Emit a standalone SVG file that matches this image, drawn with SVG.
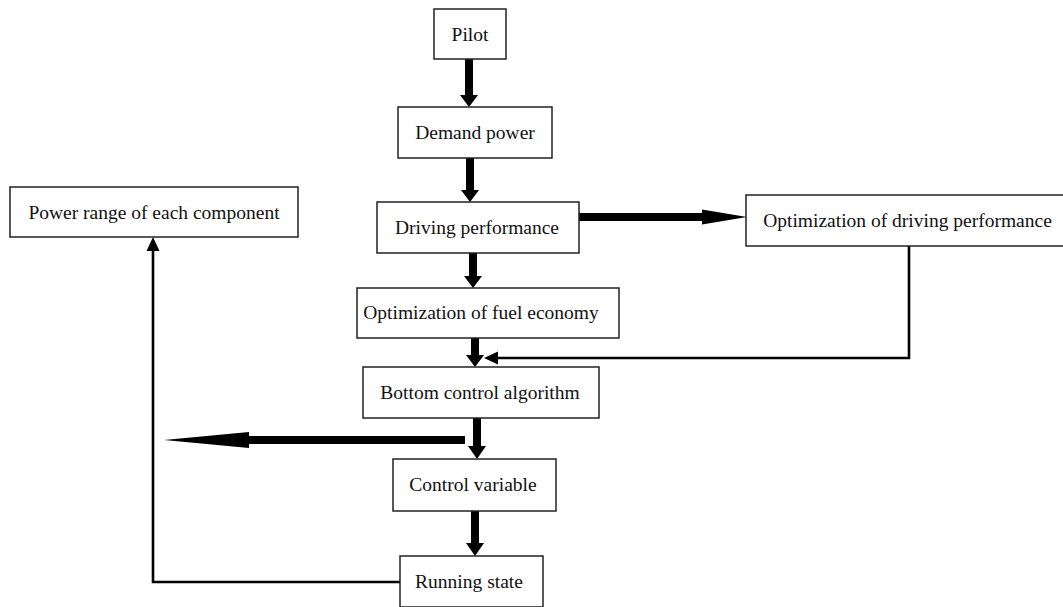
<svg xmlns="http://www.w3.org/2000/svg" width="1063" height="607" viewBox="0 0 1063 607">
<style>
.box{fill:#fff;stroke:#222;stroke-width:1.5}
.t{font-family:"Liberation Serif","Times New Roman",serif;font-size:19.5px;fill:#111;text-anchor:middle}
.fat{fill:#000}
.thin{fill:none;stroke:#000;stroke-width:2.6}
</style>
<rect width="1063" height="607" fill="#fff"/>
<g id="connectors">
<polygon class="fat" points="465,59 473,59 473,95 478,95 469,107 460,95 465,95"/>
<polygon class="fat" points="466,158 474,158 474,190 479,190 470,202 461,190 466,190"/>
<polygon class="fat" points="469,253 477,253 477,276 482,276 473,288 464,276 469,276"/>
<polygon class="fat" points="471,338 479,338 479,355 484,355 475,367 466,355 471,355"/>
<polygon class="fat" points="473,418 481,418 481,446 486,446 477,459 468,446 473,446"/>
<polygon class="fat" points="471,511 479,511 479,543 484,543 475,556 466,543 471,543"/>
<polygon class="fat" points="579,213 702,213 702,209.5 747,217 702,224.5 702,221 579,221"/>
<polygon class="fat" points="465,436 249,436 249,432 164,440 249,448 249,444 465,444"/>
<polyline class="thin" points="909,246 909,358 496,358"/>
<polygon class="fat" points="484,358 498,351.5 498,364.5"/>
<polyline class="thin" points="400,582 153,582 153,250"/>
<polygon class="fat" points="153,237 146.5,251 159.5,251"/>
</g>
<g id="pilot"><rect class="box" x="434" y="9" width="72" height="50"/><text class="t" x="470" y="41">Pilot</text></g>
<g id="demand-power"><rect class="box" x="398" y="107" width="154" height="51"/><text class="t" x="475" y="138.5">Demand power</text></g>
<g id="driving-performance"><rect class="box" x="377" y="202" width="202" height="51"/><text class="t" x="477" y="234">Driving performance</text></g>
<g id="opt-driving"><rect class="box" x="746" y="195" width="320" height="51"/><text class="t" x="907.5" y="227">Optimization of driving performance</text></g>
<g id="opt-fuel"><rect class="box" x="357" y="288" width="262" height="50"/><text class="t" x="481" y="318.5">Optimization of fuel economy</text></g>
<g id="bottom-control"><rect class="box" x="363" y="367" width="236" height="51"/><text class="t" x="480" y="398.5">Bottom control algorithm</text></g>
<g id="control-variable"><rect class="box" x="393" y="459" width="163" height="52"/><text class="t" x="473" y="491">Control variable</text></g>
<g id="running-state"><rect class="box" x="400" y="556" width="143" height="51"/><text class="t" x="469" y="588">Running state</text></g>
<g id="power-range"><rect class="box" x="10" y="187" width="288" height="50"/><text class="t" x="154" y="219">Power range of each component</text></g>
</svg>
